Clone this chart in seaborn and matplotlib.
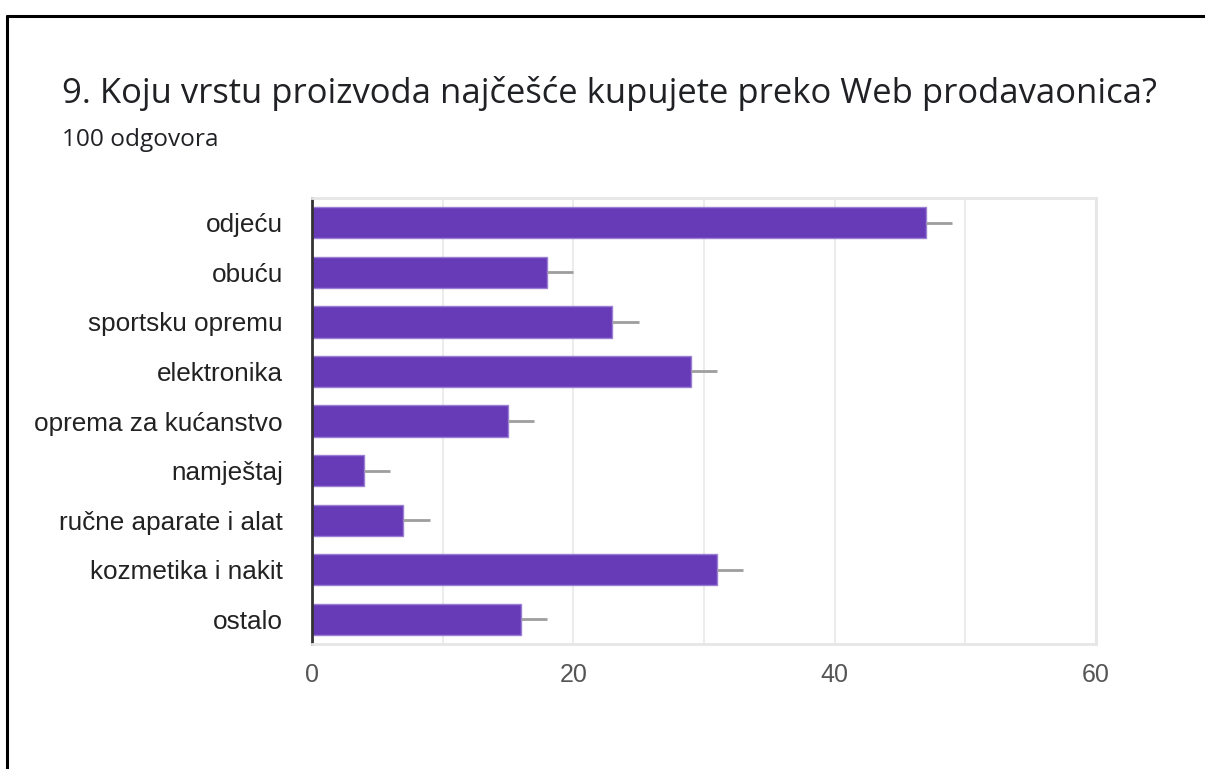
import matplotlib
matplotlib.use("Agg")
import matplotlib.pyplot as plt
from matplotlib.lines import Line2D
import numpy as np
import seaborn as sns

# Data
categories = [
    "odjeću", "obuću", "sportsku opremu", "elektronika",
    "oprema za kućanstvo", "namještaj", "ručne aparate i alat",
    "kozmetika i nakit", "ostalo",
]
counts = [47, 18, 23, 29, 15, 4, 7, 31, 16]
whisker = [2, 2, 2, 2, 2, 2, 2, 2, 2]
x_ticks = [0, 20, 40, 60]

title = "9. Koju vrstu proizvoda najčešće kupujete preko Web prodavaonica?"
subtitle = "100 odgovora"

BAR = "#673ab7"

sns.set_theme(style="white")
plt.rcParams["font.family"] = ["Liberation Sans", "DejaVu Sans"]

fig = plt.figure(figsize=(12.05, 7.69), dpi=100)
ax = fig.add_axes([0.2589, 0.1625, 0.6506, 0.58])

sns.barplot(x=counts, y=categories, orient="h", color=BAR, saturation=1,
            width=0.63, edgecolor="#9a7fd2", linewidth=1, ax=ax)
pos = np.arange(len(categories))
ax.errorbar(counts, pos, xerr=[np.zeros(len(counts)), whisker], fmt="none",
            ecolor="#9e9e9e", elinewidth=2, capsize=0, zorder=1)

ax.set_xlim(0, 60)
ax.set_ylim(len(categories) - 0.5, -0.5)
ax.set_xticks(x_ticks)
ax.set_xticks(np.arange(0, 61, 10), minor=True)
ax.grid(True, axis="x", which="both", color="#ececec", linewidth=1.5, zorder=0)
ax.set_axisbelow(True)

for side in ["top", "right", "bottom"]:
    ax.spines[side].set_color("#e6e6e6")
    ax.spines[side].set_linewidth(2)
ax.spines["left"].set_color("#333333")
ax.spines["left"].set_linewidth(2)

ax.tick_params(axis="x", which="both", length=0, pad=14, labelsize=18, labelcolor="#555555")
ax.tick_params(axis="y", length=0, pad=21, labelsize=18.8, labelcolor="#222222")
for lab in ax.get_yticklabels() + ax.get_xticklabels():
    lab.set_family(["Liberation Sans", "DejaVu Sans"])
ax.set_xlabel("")
ax.set_ylabel("")

fig.text(0.0515, 1 - 103 / 769, title, fontsize=24.9, color="#202124",
         family=["Open Sans", "DejaVu Sans"], va="baseline", ha="left")
fig.text(0.0515, 1 - 146 / 769, subtitle, fontsize=17.6, color="#202124",
         family=["Open Sans", "DejaVu Sans"], va="baseline", ha="left")

# screenshot frame (top and left edges)
fig.add_artist(Line2D([0.0058, 1.0], [1 - 15.5 / 769] * 2, color="black", linewidth=2.2))
fig.add_artist(Line2D([0.0058, 0.0058], [0, 1 - 15.5 / 769], color="black", linewidth=2.2))

fig.savefig("out.png", dpi=100)
